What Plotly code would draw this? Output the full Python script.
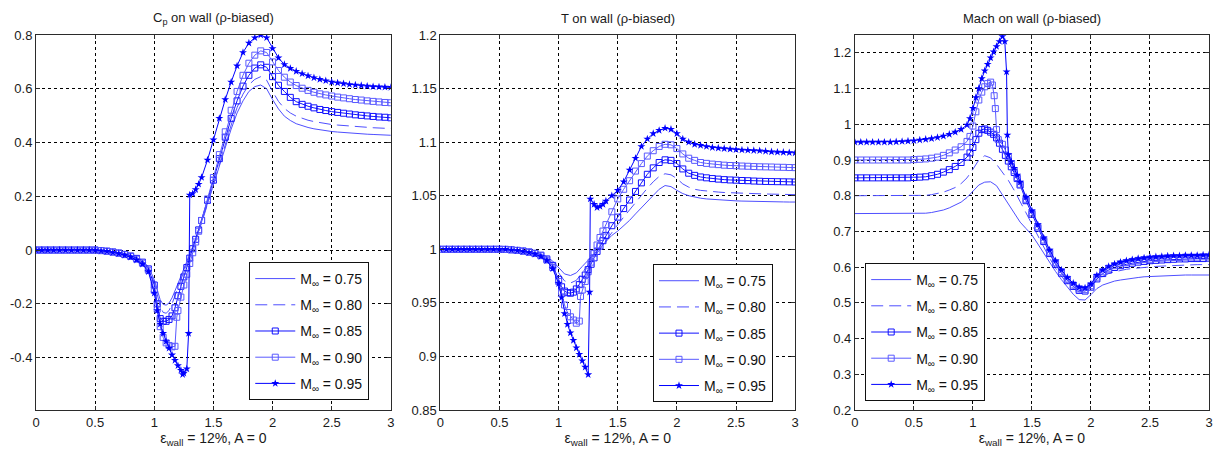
import plotly.graph_objects as go

# ---------------- shared sampling grid (x = distance along wall) ----------------
X_GRID = [0.00, 0.05, 0.10, 0.15, 0.20, 0.25, 0.30, 0.35, 0.40, 0.45,
          0.50, 0.55, 0.60, 0.65, 0.70, 0.75, 0.80, 0.85, 0.90, 0.95,
          1.00, 1.05, 1.10, 1.15, 1.20, 1.25, 1.30, 1.35, 1.40, 1.45,
          1.50, 1.55, 1.60, 1.65, 1.70, 1.75, 1.80, 1.85, 1.90, 1.95,
          2.00, 2.05, 2.10, 2.15, 2.20, 2.25, 2.30, 2.35, 2.40, 2.45,
          2.50, 2.55, 2.60, 2.65, 2.70, 2.75, 2.80, 2.85, 2.90, 2.95, 3.00]

MACH_LABELS = ["M<sub>∞</sub> = 0.75", "M<sub>∞</sub> = 0.80", "M<sub>∞</sub> = 0.85",
               "M<sub>∞</sub> = 0.90", "M<sub>∞</sub> = 0.95"]

# ---------------- Cp on wall ----------------
CP_075 = [0, 0, 0, 0, 0, 0, 0, 0, 0, 0,
          0.000, -0.001, -0.003, -0.006, -0.009, -0.013, -0.019, -0.027, -0.039, -0.062,
          -0.11, -0.185, -0.205, -0.178, -0.125, -0.072, -0.02, 0.04, 0.105, 0.175,
          0.245, 0.315, 0.385, 0.45, 0.51, 0.555, 0.59, 0.608, 0.614, 0.60,
          0.56, 0.525, 0.498, 0.482, 0.47, 0.462, 0.456, 0.451, 0.447, 0.444,
          0.441, 0.439, 0.437, 0.435, 0.434, 0.432, 0.431, 0.43, 0.429, 0.428, 0.427]
CP_075_EX = [1.075, 1.125]
CP_075_EY = [-0.202, -0.197]

CP_080 = [0, 0, 0, 0, 0, 0, 0, 0, 0, 0,
          0.000, -0.002, -0.004, -0.006, -0.01, -0.015, -0.021, -0.029, -0.042, -0.066,
          -0.12, -0.21, -0.235, -0.2, -0.14, -0.08, -0.025, 0.035, 0.10, 0.17,
          0.245, 0.32, 0.395, 0.465, 0.53, 0.58, 0.615, 0.635, 0.645, 0.632,
          0.59, 0.553, 0.527, 0.51, 0.498, 0.49, 0.483, 0.478, 0.474, 0.47,
          0.467, 0.465, 0.463, 0.461, 0.459, 0.458, 0.456, 0.455, 0.454, 0.453, 0.452]
CP_080_EX = [1.075, 1.125]
CP_080_EY = [-0.232, -0.225]

CP_085 = [0, 0, 0, 0, 0, 0, 0, 0, 0, 0,
          0.0, -0.002, -0.004, -0.007, -0.011, -0.016, -0.022, -0.031, -0.045, -0.07,
          -0.13, -0.255, -0.265, -0.245, -0.17, -0.10, -0.03, 0.04, 0.11, 0.185,
          0.26, 0.34, 0.42, 0.49, 0.555, 0.61, 0.65, 0.677, 0.689, 0.68,
          0.645, 0.613, 0.59, 0.568, 0.552, 0.542, 0.535, 0.529, 0.523, 0.519,
          0.515, 0.512, 0.509, 0.506, 0.503, 0.501, 0.499, 0.497, 0.495, 0.494, 0.492]
CP_085_EX = [1.025, 1.075, 1.125, 1.175, 1.225, 1.275, 1.325, 1.375]
CP_085_EY = [-0.20, -0.265, -0.258, -0.215, -0.135, -0.065, 0.005, 0.075]

CP_090 = [0, 0, 0, 0, 0, 0, 0, 0, 0, 0,
          0.0, -0.002, -0.005, -0.008, -0.012, -0.017, -0.024, -0.034, -0.049, -0.075,
          -0.15, -0.285, -0.345, -0.36, -0.225, -0.13, -0.05, 0.03, 0.11, 0.19,
          0.27, 0.355, 0.44, 0.52, 0.59, 0.65, 0.695, 0.725, 0.741, 0.735,
          0.70, 0.668, 0.643, 0.625, 0.612, 0.602, 0.594, 0.587, 0.581, 0.577,
          0.573, 0.569, 0.566, 0.563, 0.56, 0.558, 0.555, 0.553, 0.551, 0.549, 0.548]
CP_090_EX = [1.025, 1.075, 1.125, 1.175, 1.19, 1.225, 1.275, 1.325, 1.375]
CP_090_EY = [-0.22, -0.325, -0.355, -0.358, -0.25, -0.175, -0.09, -0.01, 0.07]

CP_095 = [0, 0, 0, 0, 0, 0, 0, 0, 0, 0,
          0.0, -0.003, -0.005, -0.009, -0.013, -0.019, -0.026, -0.037, -0.052, -0.08,
          -0.16, -0.275, -0.34, -0.39, -0.43, -0.458, 0.205, 0.225, 0.27, 0.335,
          0.41, 0.49, 0.56, 0.625, 0.685, 0.735, 0.77, 0.79, 0.80, 0.79,
          0.75, 0.715, 0.69, 0.676, 0.665, 0.656, 0.648, 0.641, 0.635, 0.63,
          0.625, 0.622, 0.619, 0.616, 0.614, 0.612, 0.61, 0.608, 0.607, 0.606, 0.605]
CP_095_EX = [1.025, 1.075, 1.125, 1.175, 1.225, 1.24, 1.275, 1.29, 1.325, 1.375]
CP_095_EY = [-0.225, -0.31, -0.365, -0.41, -0.447, -0.463, -0.442, -0.31, 0.21, 0.245]

# ---------------- T on wall ----------------
T_075 = [1.0, 1.0, 1.0, 1.0, 1.0, 1.0, 1.0, 1.0, 1.0, 1.0,
         1.0, 1.0, 0.9997, 0.9993, 0.9988, 0.998, 0.997, 0.9955, 0.993, 0.989,
         0.983, 0.977, 0.9755, 0.978, 0.984, 0.99, 0.996, 1.002, 1.008, 1.013,
         1.017, 1.022, 1.027, 1.033, 1.039, 1.045, 1.051, 1.056, 1.0595, 1.0585,
         1.055, 1.052, 1.05, 1.0487, 1.0477, 1.047, 1.0465, 1.046, 1.0457, 1.0454,
         1.0452, 1.045, 1.0448, 1.0447, 1.0445, 1.0444, 1.0443, 1.0442, 1.0442, 1.0441, 1.0441]
T_075_EX = []
T_075_EY = []

T_080 = [1.0, 1.0, 1.0, 1.0, 1.0, 1.0, 1.0, 1.0, 1.0, 1.0,
         1.0, 1.0, 0.9996, 0.9992, 0.9986, 0.9978, 0.9967, 0.995, 0.992, 0.987,
         0.978, 0.9705, 0.9685, 0.971, 0.978, 0.985, 0.993, 1.0, 1.008, 1.016,
         1.023, 1.03, 1.037, 1.044, 1.05, 1.057, 1.063, 1.068, 1.0705, 1.0695,
         1.066, 1.061, 1.058, 1.056, 1.055, 1.0543, 1.0538, 1.0534, 1.053, 1.0527,
         1.0525, 1.0522, 1.052, 1.0519, 1.0518, 1.0516, 1.0515, 1.0513, 1.0512, 1.0511, 1.051]
T_080_EX = []
T_080_EY = []

T_085 = [1.0, 1.0, 1.0, 1.0, 1.0, 1.0, 1.0, 1.0, 1.0, 1.0,
         1.0, 0.9999, 0.9995, 0.999, 0.9984, 0.9975, 0.9963, 0.9945, 0.991, 0.985,
         0.972, 0.961, 0.959, 0.963, 0.972, 0.981, 0.992, 1.003, 1.013, 1.022,
         1.03, 1.038, 1.046, 1.054, 1.062, 1.07, 1.076, 1.081, 1.0835, 1.083,
         1.08, 1.075, 1.071, 1.069, 1.0675, 1.0667, 1.066, 1.0655, 1.065, 1.0647,
         1.0645, 1.0642, 1.064, 1.0637, 1.0635, 1.0633, 1.0632, 1.0631, 1.063, 1.0629, 1.0628]
T_085_EX = [1.025, 1.075, 1.125, 1.175, 1.225, 1.275, 1.325, 1.375]
T_085_EY = [0.965, 0.9595, 0.96, 0.967, 0.976, 0.986, 0.998, 1.008]

T_090 = [1.0, 1.0, 1.0, 1.0, 1.0, 1.0, 1.0, 1.0, 1.0, 1.0,
         1.0, 0.9999, 0.9995, 0.9989, 0.9982, 0.9972, 0.996, 0.994, 0.99, 0.983,
         0.97, 0.948, 0.937, 0.931, 0.962, 0.979, 0.996, 1.011, 1.023, 1.035,
         1.047, 1.056, 1.064, 1.073, 1.08, 1.087, 1.092, 1.096, 1.098, 1.0975,
         1.094, 1.089, 1.085, 1.083, 1.081, 1.0802, 1.0795, 1.079, 1.0785, 1.0782,
         1.078, 1.0777, 1.0775, 1.0772, 1.077, 1.0769, 1.0768, 1.0766, 1.0765, 1.0763, 1.0762]
T_090_EX = [1.025, 1.075, 1.125, 1.175, 1.185, 1.225, 1.275, 1.325, 1.375]
T_090_EY = [0.96, 0.941, 0.934, 0.933, 0.956, 0.97, 0.988, 1.004, 1.017]

T_095 = [1.0, 1.0, 1.0, 1.0, 1.0, 1.0, 1.0, 1.0, 1.0, 1.0,
         1.0, 0.9999, 0.9994, 0.9988, 0.998, 0.997, 0.9955, 0.9933, 0.9895, 0.982,
         0.968, 0.94, 0.922, 0.908, 0.896, 0.883, 1.042, 1.04, 1.045, 1.05,
         1.055, 1.063, 1.074, 1.085, 1.096, 1.103, 1.108, 1.111, 1.113, 1.112,
         1.108, 1.103, 1.10, 1.098, 1.097, 1.096, 1.095, 1.0945, 1.094, 1.0935,
         1.093, 1.0927, 1.0925, 1.0922, 1.092, 1.0915, 1.091, 1.0907, 1.0905, 1.0902, 1.09]
T_095_EX = [1.025, 1.075, 1.125, 1.175, 1.225, 1.262, 1.268, 1.325, 1.375]
T_095_EY = [0.955, 0.93, 0.915, 0.902, 0.89, 0.96, 1.047, 1.039, 1.042]

# ---------------- Mach on wall ----------------
M_075 = [0.75, 0.75, 0.75, 0.75, 0.75, 0.75, 0.75, 0.75, 0.75, 0.75,
         0.75, 0.75, 0.751, 0.753, 0.756, 0.76, 0.766, 0.773, 0.782, 0.795,
         0.812, 0.83, 0.838, 0.839, 0.828, 0.803, 0.777, 0.75, 0.726, 0.708,
         0.69, 0.665, 0.638, 0.612, 0.588, 0.565, 0.543, 0.524, 0.509, 0.508,
         0.523, 0.54, 0.55, 0.556, 0.561, 0.564, 0.567, 0.569, 0.571, 0.573,
         0.574, 0.575, 0.576, 0.577, 0.577, 0.578, 0.578, 0.578, 0.578, 0.578, 0.578]
M_075_EX = []
M_075_EY = []

M_080 = [0.80, 0.80, 0.80, 0.80, 0.80, 0.80, 0.80, 0.80, 0.80, 0.80,
         0.80, 0.80, 0.801, 0.803, 0.806, 0.81, 0.816, 0.823, 0.834, 0.85,
         0.874, 0.90, 0.912, 0.906, 0.888, 0.866, 0.843, 0.815, 0.785, 0.752,
         0.72, 0.688, 0.655, 0.625, 0.597, 0.574, 0.555, 0.54, 0.531, 0.532,
         0.546, 0.563, 0.574, 0.582, 0.587, 0.591, 0.594, 0.596, 0.598, 0.60,
         0.601, 0.602, 0.603, 0.604, 0.605, 0.605, 0.606, 0.606, 0.607, 0.607, 0.607]
M_080_EX = []
M_080_EY = []

M_085 = [0.85, 0.85, 0.85, 0.85, 0.85, 0.85, 0.85, 0.85, 0.85, 0.85,
         0.851, 0.852, 0.853, 0.856, 0.86, 0.866, 0.873, 0.882, 0.893, 0.908,
         0.935, 0.975, 0.987, 0.978, 0.962, 0.93, 0.897, 0.865, 0.83, 0.786,
         0.748, 0.709, 0.672, 0.638, 0.608, 0.583, 0.562, 0.546, 0.535, 0.533,
         0.544, 0.567, 0.582, 0.592, 0.599, 0.604, 0.608, 0.611, 0.614, 0.616,
         0.618, 0.619, 0.62, 0.621, 0.622, 0.623, 0.623, 0.624, 0.624, 0.624, 0.625]
M_085_EX = [0.975, 1.025, 1.075, 1.125, 1.175, 1.225, 1.275, 1.325, 1.375]
M_085_EY = [0.92, 0.957, 0.985, 0.983, 0.972, 0.947, 0.913, 0.881, 0.848]

M_090 = [0.90, 0.90, 0.90, 0.90, 0.90, 0.90, 0.90, 0.90, 0.90, 0.90,
         0.901, 0.902, 0.903, 0.905, 0.908, 0.913, 0.92, 0.928, 0.937, 0.952,
         0.995, 1.068, 1.105, 1.118, 0.985, 0.944, 0.91, 0.87, 0.832, 0.79,
         0.752, 0.713, 0.676, 0.642, 0.612, 0.587, 0.566, 0.55, 0.539, 0.537,
         0.548, 0.572, 0.587, 0.597, 0.604, 0.609, 0.613, 0.616, 0.619, 0.621,
         0.622, 0.624, 0.625, 0.626, 0.627, 0.627, 0.628, 0.628, 0.628, 0.629, 0.629]
M_090_EX = [0.975, 1.025, 1.075, 1.125, 1.165, 1.18, 1.19, 1.215, 1.275, 1.325, 1.375]
M_090_EY = [0.966, 1.035, 1.09, 1.114, 1.11, 1.08, 1.044, 0.957, 0.928, 0.89, 0.851]

M_095 = [0.95, 0.95, 0.95, 0.95, 0.95, 0.95, 0.95, 0.951, 0.952, 0.953,
         0.954, 0.956, 0.958, 0.96, 0.963, 0.967, 0.972, 0.978, 0.986, 0.998,
         1.045, 1.10, 1.15, 1.186, 1.218, 1.246, 0.915, 0.877, 0.838, 0.796,
         0.758, 0.719, 0.682, 0.648, 0.618, 0.592, 0.571, 0.555, 0.544, 0.542,
         0.553, 0.577, 0.592, 0.602, 0.609, 0.614, 0.618, 0.621, 0.624, 0.626,
         0.628, 0.629, 0.63, 0.631, 0.632, 0.632, 0.633, 0.633, 0.633, 0.634, 0.634]
M_095_EX = [0.975, 1.025, 1.075, 1.125, 1.175, 1.225, 1.27, 1.285, 1.292, 1.325, 1.375]
M_095_EY = [1.016, 1.075, 1.128, 1.168, 1.203, 1.232, 1.232, 1.147, 0.97, 0.895, 0.858]

# ---------------- axis ticks ----------------
X_TICKS = [0, 0.5, 1, 1.5, 2, 2.5, 3]
X_TICKTEXT = ["0", "0.5", "1", "1.5", "2", "2.5", "3"]
CP_TICKS = [-0.4, -0.2, 0, 0.2, 0.4, 0.6, 0.8]
CP_TICKTEXT = ["-0.4", "-0.2", "0", "0.2", "0.4", "0.6", "0.8"]
T_TICKS = [0.85, 0.9, 0.95, 1.0, 1.05, 1.1, 1.15, 1.2]
T_TICKTEXT = ["0.85", "0.9", "0.95", "1", "1.05", "1.1", "1.15", "1.2"]
M_TICKS = [0.2, 0.3, 0.4, 0.5, 0.6, 0.7, 0.8, 0.9, 1.0, 1.1, 1.2]
M_TICKTEXT = ["0.2", "0.3", "0.4", "0.5", "0.6", "0.7", "0.8", "0.9", "1", "1.1", "1.2"]

TITLES = ["C<sub>p</sub> on wall (ρ-biased)", "T on wall (ρ-biased)", "Mach on wall (ρ-biased)"]
XLABEL = "ε<sub>wall</sub> = 12%, A = 0"

# ---------------- styling ----------------
FONT = "Arial, 'Liberation Sans', sans-serif"
STYLES = [
    dict(mode="lines", line=dict(color="#4f4fff", width=1)),
    dict(mode="lines", line=dict(color="#4f4fff", width=1, dash="12px,6px")),
    dict(mode="lines+markers", line=dict(color="#1010ff", width=1),
         marker=dict(symbol="square-open", size=6, color="#1010ff", line=dict(width=1, color="#1010ff"))),
    dict(mode="lines+markers", line=dict(color="#5a5aff", width=1),
         marker=dict(symbol="square-open", size=6, color="#5a5aff", line=dict(width=1, color="#5a5aff"))),
    dict(mode="lines+markers", line=dict(color="#0000ff", width=1),
         marker=dict(symbol="star", size=6, color="#0000ff", line=dict(width=0))),
]

def merge(xs, ys, ex, ey):
    pts = sorted(list(zip(xs, ys)) + list(zip(ex, ey)), key=lambda p: p[0])
    return [p[0] for p in pts], [p[1] for p in pts]

PANELS = [
    [(CP_075, CP_075_EX, CP_075_EY), (CP_080, CP_080_EX, CP_080_EY), (CP_085, CP_085_EX, CP_085_EY),
     (CP_090, CP_090_EX, CP_090_EY), (CP_095, CP_095_EX, CP_095_EY)],
    [(T_075, T_075_EX, T_075_EY), (T_080, T_080_EX, T_080_EY), (T_085, T_085_EX, T_085_EY),
     (T_090, T_090_EX, T_090_EY), (T_095, T_095_EX, T_095_EY)],
    [(M_075, M_075_EX, M_075_EY), (M_080, M_080_EX, M_080_EY), (M_085, M_085_EX, M_085_EY),
     (M_090, M_090_EX, M_090_EY), (M_095, M_095_EX, M_095_EY)],
]

fig = go.Figure()
axis_suffix = ["", "2", "3"]
legend_names = ["legend", "legend2", "legend3"]
for p, series in enumerate(PANELS):
    for k, (ys, ex, ey) in enumerate(series):
        xx, yy = merge(X_GRID, ys, ex, ey)
        fig.add_trace(go.Scatter(
            x=xx, y=yy, name=MACH_LABELS[k],
            xaxis="x" + axis_suffix[p], yaxis="y" + axis_suffix[p],
            legend=legend_names[p], legendgroup=f"p{p}m{k}",
            **STYLES[k]))

DOMAINS = [[0.0, 0.3025], [0.3447, 0.6472], [0.6981, 1.0]]
YRANGES = [[-0.595, 0.8], [0.85, 1.2], [0.2, 1.25]]
YTICKS = [(CP_TICKS, CP_TICKTEXT), (T_TICKS, T_TICKTEXT), (M_TICKS, M_TICKTEXT)]

common_axis = dict(showline=True, mirror="ticks", linecolor="#2b2b2b", linewidth=1,
                   showgrid=True, gridcolor="#000000", gridwidth=1, griddash="3px,3px",
                   zeroline=False, ticks="inside", ticklen=4, tickcolor="#2b2b2b",
                   tickfont=dict(family=FONT, size=13, color="#1a1a1a"))

layout = dict(
    width=1221, height=461,
    margin=dict(l=36, r=8, t=35, b=51),
    paper_bgcolor="white", plot_bgcolor="white",
    font=dict(family=FONT, color="#1a1a1a"),
)
for p in range(3):
    s = axis_suffix[p]
    layout["xaxis" + s] = dict(common_axis, domain=DOMAINS[p], range=[0, 3],
                               tickvals=X_TICKS, ticktext=X_TICKTEXT,
                               anchor="y" + s,
                               title=dict(text=XLABEL, font=dict(family=FONT, size=14), standoff=4))
    layout["yaxis" + s] = dict(common_axis, domain=[0, 1], range=YRANGES[p],
                               tickvals=YTICKS[p][0], ticktext=YTICKS[p][1],
                               anchor="x" + s)

LEG_POS = [(0.1818, 0.3947), (0.526, 0.389), (0.7069, 0.392)]
for p in range(3):
    layout[legend_names[p]] = dict(x=LEG_POS[p][0], y=LEG_POS[p][1], xanchor="left", yanchor="top",
                                   bgcolor="white", bordercolor="#111111", borderwidth=1,
                                   font=dict(family=FONT, size=14, color="#111111"),
                                   traceorder="grouped", tracegroupgap=5, itemwidth=40)

annotations = []
for p in range(3):
    annotations.append(dict(text=TITLES[p], xref="paper", yref="paper",
                            x=(DOMAINS[p][0] + DOMAINS[p][1]) / 2, y=1.0,
                            xanchor="center", yanchor="middle", yshift=17, showarrow=False,
                            font=dict(family=FONT, size=13, color="#1a1a1a")))
layout["annotations"] = annotations

fig.update_layout(**layout)
fig.write_html("out.html")
